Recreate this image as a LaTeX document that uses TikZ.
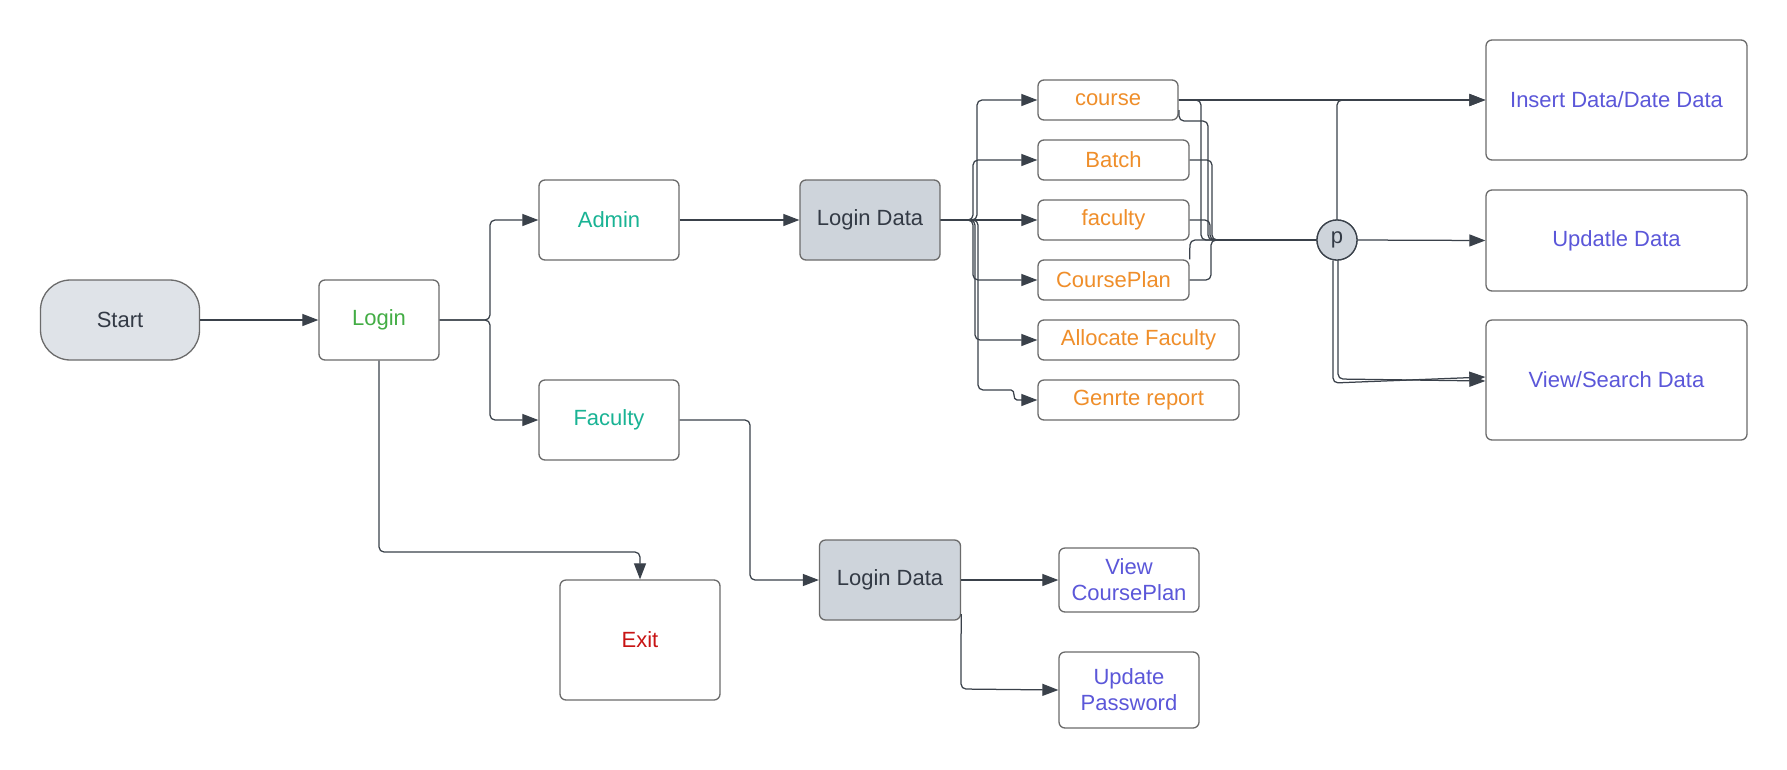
\documentclass[tikz,border=0pt]{standalone}
\usepackage{fontspec}
\setmainfont{Liberation Sans}
\usetikzlibrary{arrows.meta}
\definecolor{ln}{HTML}{3A414A}
\definecolor{bd}{HTML}{6B6B6B}
\definecolor{gfill}{HTML}{DFE3E8}
\definecolor{dfill}{HTML}{CED4DB}
\definecolor{tdark}{HTML}{333A45}
\definecolor{tgreen}{HTML}{43AD45}
\definecolor{tteal}{HTML}{19B394}
\definecolor{torange}{HTML}{EF8E2A}
\definecolor{tblue}{HTML}{5B57D9}
\definecolor{tred}{HTML}{C81414}
\tikzset{
  box/.style={draw=bd, line width=1.3pt, rounded corners=6pt, inner sep=0pt, fill=white,
    font=\fontsize{22}{26}\selectfont, align=center},
  conn/.style={draw=ln, line width=1.25pt, rounded corners=5pt},
  arr/.style={conn, -{Triangle[length=16pt,width=12pt]}},
  pnode/.style={draw=ln, line width=1.3pt, circle, fill=dfill, text=tdark, minimum size=40pt,
    inner sep=0pt, font=\fontsize{22}{26}\selectfont},
}
\begin{document}
\begin{tikzpicture}[x=1pt,y=-1pt]
\useasboundingbox (0,0) rectangle (1787,769);
\fill[white] (0,0) rectangle (1787,769);
% nodes
\node[box, fill=gfill, text=tdark, rounded corners=30pt, minimum width=159pt, minimum height=80pt] (start) at (120,320) {Start};
\node[box, text=tgreen, minimum width=120pt, minimum height=80pt] (login) at (379,320) {Login};
\node[box, text=tteal, minimum width=140pt, minimum height=80pt] (admin) at (609,220) {Admin};
\node[box, text=tteal, minimum width=140pt, minimum height=80pt] (faculty) at (609,420) {Faculty};
\node[box, fill=dfill, text=tdark, minimum width=140pt, minimum height=80pt] (ld1) at (870,220) {Login Data};
\node[box, fill=dfill, text=tdark, minimum width=141pt, minimum height=80pt] (ld2) at (890,580) {Login Data};
\node[box, text=tred, minimum width=160pt, minimum height=120pt] (exit) at (640,640) {Exit};
\node[box, text=tblue, minimum width=140pt, minimum height=64pt] (vcp) at (1129,580) {View\\CoursePlan};
\node[box, text=tblue, minimum width=140pt, minimum height=76pt] (upw) at (1129,690) {Update\\Password};
\node[box, text=torange, minimum width=140pt, minimum height=40pt] (course) at (1108,100) {course};
\node[box, text=torange, minimum width=151pt, minimum height=40pt] (batch) at (1113.5,160) {Batch};
\node[box, text=torange, minimum width=151pt, minimum height=40pt] (facl) at (1113.5,220) {faculty};
\node[box, text=torange, minimum width=151pt, minimum height=40pt] (cplan) at (1113.5,280) {CoursePlan};
\node[box, text=torange, minimum width=201pt, minimum height=40pt] (alloc) at (1138.5,340) {Allocate Faculty};
\node[box, text=torange, minimum width=201pt, minimum height=40pt] (genrte) at (1138.5,400) {Genrte report};
\node[box, text=tblue, minimum width=261pt, minimum height=120pt] (ins) at (1616.5,100) {Insert Data/Date Data};
\node[box, text=tblue, minimum width=261pt, minimum height=101pt] (upd) at (1616.5,240.5) {Updatle Data};
\node[box, text=tblue, minimum width=261pt, minimum height=120pt] (view) at (1616.5,380) {View/Search Data};
% connectors
\draw[arr] (start) -- (login);
\draw[arr] (login.east) -- (490,320) -- (490,220) -- (admin.west);
\draw[arr] (login.east) -- (490,320) -- (490,420) -- (faculty.west);
\draw[arr] (login.south) -- (379,552) -- (640,552) -- (exit.north);
\draw[arr] (admin) -- (ld1);
\draw[arr] (faculty.east) -- (750,420) -- (750,580) -- (ld2.west);
\draw[arr] (ld2) -- (vcp);
\draw[arr] ([yshift=-34pt]ld2.east) -- (961,689) -- (upw.west);
\draw[arr] (ld1.east) -- (977,220) -- (977,100) -- (course.west);
\draw[arr] (ld1.east) -- (973,220) -- (973,160) -- (batch.west);
\draw[arr] (ld1) -- (facl);
\draw[arr] (ld1.east) -- (973,220) -- (973,280) -- (cplan.west);
\draw[arr] (ld1.east) -- (975,220) -- (975,340) -- (alloc.west);
\draw[arr] (ld1.east) -- (978,220) -- (978,390) -- (1006,390) .. controls (1016,390) and (1012,400) .. (1022,400) -- (genrte.west);
% into p
\node[pnode] (p) at (1337,240) {p};
\draw[arr] (course.east) -- (ins.west);
\draw[conn] (course.east) -- (1201,100) -- (1201,240) -- (p.west);
\draw[conn] (1179,110) -- (1179,121) -- (1208,121) -- (1208,240) -- (p.west);
\draw[conn] (batch.east) -- (1212,160) -- (1212,240) -- (p.west);
\draw[conn] (facl.east) -- (1210,220) -- (1210,240) -- (p.west);
\draw[conn] (cplan.east) -- (1211,280) -- (1211,240) -- (p.west);
\draw[conn] (cplan.north east) -- (1190,240) -- (p.west);
\node[pnode] at (p) {p};
% from p
\draw[arr] (p.north) -- (1337,100) -- (ins.west);
\draw[arr] (p.east) -- (upd.west);
\draw[arr] ([xshift=1pt]p.south) -- (1338,379) -- ([yshift=-1pt]view.west);
\draw[arr] ([xshift=-4pt]p.south) -- (1333,383) -- ([yshift=3pt]view.west);
\end{tikzpicture}
\end{document}
